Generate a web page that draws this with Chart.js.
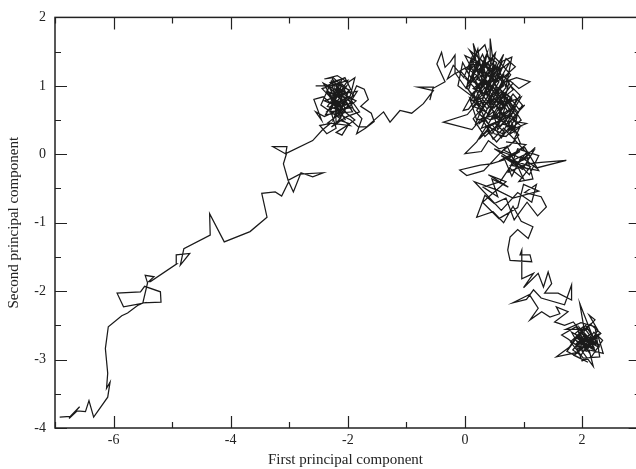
<!DOCTYPE html>
<html>
<head>
<meta charset="utf-8">
<script src="https://cdn.jsdelivr.net/npm/chart.js@4.4.1/dist/chart.umd.min.js"></script>
<style>
  html, body { margin: 0; padding: 0; background: #fff; }
  #wrap { width: 636px; height: 469px; }
</style>
</head>
<body>
<div id="wrap"><canvas id="pcaChart" width="636" height="469"></canvas></div>
<script>
// axis settings
const xRange = [-7, 2.92];
const yRange = [-4, 2];
const xTitle = 'First principal component';
const yTitle = 'Second principal component';

// trajectory
const tailPts = [
  [-6.92,-3.84],[-6.74,-3.83],[-6.58,-3.69],[-6.76,-3.86],[-6.62,-3.75],[-6.48,-3.76],
  [-6.42,-3.60],[-6.34,-3.84],[-6.10,-3.55],[-6.06,-3.33],[-6.12,-3.42],[-6.10,-3.20],
  [-6.14,-2.84],[-6.09,-2.52],[-5.86,-2.36],[-5.76,-2.32],[-5.59,-2.21],[-5.51,-2.18],
  [-5.83,-2.23],[-5.94,-2.03],[-5.54,-2.01],[-5.47,-1.93],[-5.20,-2.01],[-5.19,-2.16],
  [-5.50,-2.17],[-5.42,-1.88],[-5.46,-1.77],[-5.31,-1.79],[-5.40,-1.86],[-5.37,-1.86],
  [-4.92,-1.60],[-4.93,-1.47],[-4.70,-1.45],[-4.86,-1.62],[-4.80,-1.38],[-4.35,-1.18],
  [-4.36,-0.87],[-4.11,-1.28],[-3.67,-1.13],[-3.38,-0.92],[-3.47,-0.57],[-3.24,-0.55],
  [-3.13,-0.61],[-3.01,-0.40],[-2.93,-0.55],[-2.80,-0.27],[-2.60,-0.33],[-2.42,-0.27],
  [-2.82,-0.29],[-3.02,-0.38],[-3.10,-0.14],[-3.05,0.00],[-3.28,0.11],[-3.04,0.11],
  [-3.06,0.01],[-2.60,0.20],[-2.44,0.35]
];

const clusterA = [
  [-2.30,0.45],[-2.48,0.42],[-2.36,0.30],[-2.20,0.38],[-2.28,0.60],[-2.12,0.55],
  [-2.25,0.80],[-2.05,0.72],[-2.18,0.95],[-2.00,0.88],[-2.30,1.05],[-2.10,1.10],
  [-2.22,0.85],[-2.35,0.70],[-2.15,0.65],[-2.40,0.55],[-2.55,0.62],[-2.45,0.50],
  [-2.58,0.80],[-2.42,0.84],[-2.30,0.75],[-2.12,0.78],[-2.20,1.00],[-2.55,1.00],
  [-2.36,1.00],[-2.05,1.12],[-1.95,0.95],[-2.10,0.85],[-1.92,0.75],[-2.15,0.70],
  [-2.44,0.96],[-2.00,1.08],[-2.38,0.58],[-1.92,0.62],[-2.26,1.10],[-2.46,0.72],
  [-1.96,0.42],[-2.34,0.46],[-1.86,0.78],[-2.42,1.04],[-2.04,0.50],[-2.30,0.86],
  [-1.84,0.92],[-2.20,0.44],
  [-2.22,0.96],[-2.04,0.66],[-2.30,0.62],[-2.10,1.02],[-2.26,0.74],[-2.00,0.82],
  [-2.36,0.92],[-2.14,0.58],[-1.98,0.94],[-2.28,1.06],[-2.18,0.70],[-2.40,0.78],
  [-2.08,0.88],[-2.24,0.52],[-2.06,0.76],[-2.32,0.98],[-2.12,0.66],[-1.94,0.68],
  [-2.20,0.86],[-2.02,1.00],[-2.16,0.80],[-2.34,0.64],[-2.10,0.74],[-1.90,0.86],
  [-2.14,1.06],[-2.26,0.84],
  [-2.02,0.60],[-1.88,0.50],[-2.05,0.40],[-2.20,0.32],[-2.10,0.28],[-1.98,0.45],
  [-2.15,0.50],[-2.28,0.40],[-2.02,0.55],[-1.80,0.62],[-1.95,0.80],[-1.85,1.00],
  [-1.72,0.95],[-1.65,0.80],[-1.78,0.70],[-1.60,0.60],[-1.55,0.48],[-1.70,0.38],
  [-1.85,0.30],[-1.76,0.52],[-1.90,0.65],[-2.08,0.98],[-2.25,1.12],[-2.40,1.10],
  [-2.18,1.15],[-2.00,1.05],[-1.88,1.12],[-1.96,0.85],[-2.20,0.72],[-2.32,0.88],
  [-2.12,0.92],[-2.00,0.70],[-2.18,0.60],[-1.95,0.50],[-1.82,0.40],[-1.68,0.40]
];

const bridgePts = [
  [-1.39,0.62],[-1.28,0.47],[-1.11,0.64],[-0.91,0.60],[-0.71,0.74],[-0.54,0.93],
  [-0.80,0.98],[-0.54,0.98],[-0.60,0.79],[-0.55,0.96],[-0.34,1.06],[-0.48,1.32],
  [-0.40,1.49],[-0.34,1.27],[-0.25,1.35],[-0.17,1.45],[-0.17,1.18],[-0.30,1.10]
];

const clusterB = [
  [-0.20,1.30],[-0.02,1.12],[0.12,1.42],[0.04,1.02],[0.30,1.22],[0.14,1.62],
  [0.22,1.18],[0.38,1.48],[0.26,1.02],[0.50,1.28],[0.32,0.88],[0.12,1.16],
  [0.44,1.38],[0.43,1.69],[0.50,1.22],[0.66,1.46],[0.48,1.02],[0.74,1.18],
  [0.52,0.86],[0.34,1.10],[0.18,0.82],[0.02,0.98],[0.24,1.30],[0.08,1.52],
  [0.30,1.36],[0.36,1.12],[0.14,0.96],[0.40,0.86],[0.56,1.20],[0.64,1.36],
  [0.80,1.42],[0.70,0.98],[0.56,1.28],[0.40,0.96],[0.24,1.34],[0.10,1.12],
  [-0.04,1.34],[-0.12,1.00],[0.10,0.86],[0.34,1.08],[0.46,0.78],[0.62,1.04],
  [0.88,1.12],[1.11,1.06],[0.92,0.96],[0.76,1.08],[0.66,0.74],[0.48,0.98],
  [0.30,0.72],[0.18,0.96],[0.42,1.20],[0.26,1.40],[0.10,1.24],[0.22,1.54],
  [0.28,1.20],[0.36,1.44],[0.54,1.34],[0.42,1.04],[0.66,1.16],[0.54,0.80],
  [0.38,0.66],[0.22,0.84],[0.06,0.66],[-0.03,0.64],[0.14,0.90],[0.32,0.56],
  [0.46,0.80],[0.64,0.56],[0.74,0.86],[0.92,0.66],[1.02,0.72],[0.82,0.54],
  [0.72,0.40],[0.56,0.70],[0.40,0.44],[0.20,0.64],[0.36,0.90],[0.52,0.54],
  [0.70,0.76],[0.84,0.48],[1.05,0.45],[0.80,0.36],[0.62,0.50],[0.46,0.30],
  [0.28,0.52],[0.12,0.36],[-0.37,0.47],[0.04,0.58],[0.22,0.76],[0.40,0.58],
  [0.58,0.84],[0.72,1.00],[0.56,1.12],[0.38,0.90],[0.22,1.14],[0.06,1.24],
  [0.16,1.44],[0.34,1.60],[0.42,1.36],[0.58,1.22],[0.76,1.34],[0.60,1.10],
  [0.44,1.26],[0.28,0.96],[0.12,1.10],[0.00,1.26],[-0.16,1.18],[0.02,0.96],
  [0.22,1.16],[0.40,1.32],[0.52,1.00],[0.70,0.88],[0.50,0.68],[0.34,0.98],
  [0.18,0.78],[0.44,0.74],[0.62,0.92],[0.80,0.66],[0.60,0.52],[0.44,0.68],
  [0.28,0.38],[0.50,0.46],[0.68,0.32],[0.54,0.18],[0.38,0.34],[0.24,0.22],
  [0.46,0.44],[0.62,0.24],[0.78,0.42],[0.92,0.28],[0.76,0.12],[0.58,0.08],
  [0.40,0.20],[0.28,0.04],[0.00,0.01],[0.20,0.18],[0.36,0.40],[0.56,0.48],
  [0.72,0.64],[0.50,0.90],[0.32,1.14],[0.48,1.34],[0.66,1.00],[0.46,0.86],
  [0.28,0.66],[0.14,0.52],[0.34,0.26],[0.52,0.40],[0.66,0.56],[0.84,0.32],
  [0.90,0.62],[0.70,0.84],[0.96,0.50],[0.74,0.34],[0.98,0.72],[0.82,0.88],
  [0.60,0.62],[0.92,0.44],[0.76,0.58],[0.50,0.52],[0.86,0.70],[0.64,0.30],
  [0.40,0.40],[0.72,0.54],[0.94,0.86],[0.78,1.00],[0.56,0.76],[0.88,0.80],
  [0.68,0.46],[0.46,0.56],[0.20,0.50],[0.08,0.82],[0.26,0.68],[0.06,0.94],
  [0.16,1.18],[0.00,1.44],[0.20,1.36],[0.08,1.06],[-0.08,1.22],[0.14,1.32],
  [0.34,1.04],[0.58,1.18],[0.82,1.04],[0.66,0.86],[0.84,0.62],[0.58,0.40],
  [0.60,0.70],[0.42,0.92],[0.26,1.24],[0.46,1.10],[0.30,1.46],[0.18,1.26],
  [0.38,1.18],[0.20,0.94],[0.02,1.10],[0.24,1.02],[0.10,0.78],[0.30,0.82],
  [0.48,1.18],[0.36,1.30],[0.52,1.48],[0.44,1.14],[0.62,1.26],[0.46,0.94],
  [0.64,0.82],[0.82,0.94],[0.68,1.14],[0.86,1.28],[0.70,1.40],[0.54,1.06],
  [0.34,1.20],[0.16,1.06],[0.30,0.88],[0.14,0.70],[0.36,0.62],[0.26,0.46],
  [0.48,0.62],[0.56,0.36],[0.72,0.52],[0.58,0.66],[0.76,0.76],[0.96,0.84],
  [0.80,0.60],[0.64,0.44],[0.86,0.40],[0.70,0.26],[0.50,0.30],[0.36,0.50],
  [0.18,0.44],[0.30,0.70],[0.50,0.82],[0.68,0.68],[0.54,0.94],[0.40,0.76],
  [0.24,0.92],[0.38,1.06],[0.56,0.92],[0.44,1.22],[0.28,1.12],[0.12,1.36],
  [0.30,1.30],[0.20,1.10],[0.40,1.00],[0.30,0.80],[0.46,0.66],[0.64,0.78],
  [0.52,0.58],[0.70,0.44],[0.88,0.56],[0.72,0.70],[0.60,0.96],[0.78,1.16],
  [0.62,1.32],[0.48,1.44],[0.40,1.24],[0.58,1.06],[0.42,0.82],[0.24,0.58],
  [0.44,0.50],[0.62,0.64],[0.80,0.82],[0.66,0.90],[0.50,0.74],[0.32,0.48],
  [0.48,0.22],[0.66,0.38],[0.84,0.22],[0.94,0.40],[0.78,0.30],[0.80,0.46]
];

const clusterC = [
  [0.95,0.15],[0.70,0.18],[1.04,0.14],[0.80,-0.02],[0.50,0.08],[0.90,-0.14],
  [1.20,0.10],[1.00,-0.08],[0.66,0.06],[0.86,0.20],[1.12,-0.04],[0.78,-0.16],
  [1.26,-0.24],[1.02,0.10],[0.58,-0.10],[0.94,0.04],[0.74,-0.06],[1.08,-0.22],
  [0.62,-0.02],[0.98,-0.22],[1.18,0.06],[0.84,-0.08],[1.10,-0.30],
  [1.26,-0.02],[0.90,0.08],[0.74,-0.26],[1.06,-0.14],[1.30,-0.12],[1.73,-0.09],
  [1.22,-0.20],[0.96,-0.04],[0.80,-0.32],[0.68,-0.08],[0.44,-0.14],[0.26,-0.16],
  [-0.09,-0.23],[0.03,-0.31],[0.32,-0.24],[0.56,-0.02],[0.72,0.12],[0.88,-0.18],
  [1.04,0.02],[1.16,-0.36],[0.92,-0.40],[1.12,-0.18],[0.86,-0.10],[1.00,-0.36],
  [0.76,-0.20],[0.60,-0.40],[0.31,-0.48],[0.56,-0.62],[0.46,-0.36],[0.74,-0.48],
  [0.40,-0.30],[0.70,-0.40],[0.30,-0.70],[0.58,-0.94],[0.90,-0.78],[1.00,-0.44],
  [1.26,-0.54],[0.82,-0.64],[0.54,-0.52],[0.16,-0.40],
  [0.62,-0.82],[0.90,-0.56],[1.14,-0.70],[1.22,-0.44],[1.02,-0.56],[1.30,-0.62],
  [1.39,-0.77],[1.24,-0.90],[1.06,-0.70],[0.84,-0.96],[0.70,-0.64],[0.50,-0.72],
  [0.34,-0.60],[0.20,-0.92],[0.48,-0.84],[0.66,-1.00],[0.82,-0.76],[0.96,-0.98],
  [1.16,-1.06],[1.08,-1.23],[0.90,-1.10],[0.77,-1.21]
];

const descentPts = [
  [0.73,-1.40],[0.77,-1.55],[1.14,-1.57],[1.11,-1.47],[0.94,-1.47],[0.97,-1.40],
  [0.97,-1.82],[1.17,-1.74],[1.00,-1.95],[1.25,-1.74],[1.34,-1.94],[1.42,-1.72],
  [1.48,-1.89],[1.36,-2.03],[1.59,-2.03],[1.82,-2.13],[1.82,-1.91],[1.70,-2.20],
  [1.30,-2.10],[1.17,-1.98],[1.05,-2.12],[0.82,-2.17],[1.10,-2.05],[1.25,-2.25],
  [1.11,-2.42],[1.31,-2.30],[1.45,-2.38],[1.62,-2.33],[1.56,-2.23],[1.76,-2.30],
  [1.53,-2.45],[1.70,-2.50]
];

const clusterD = [
  [1.85,-2.45],[2.08,-2.70],[1.88,-2.78],[2.16,-2.62],[1.96,-2.18],[2.04,-2.58],
  [2.22,-2.42],[2.12,-2.35],[2.27,-2.57],[2.06,-2.86],[1.92,-2.64],[1.78,-2.82],
  [1.56,-2.96],[1.90,-2.90],[2.10,-2.74],[2.28,-2.68],[2.36,-2.91],[2.12,-2.86],
  [2.19,-3.10],[2.00,-2.88],[1.94,-2.60],[2.14,-2.68],[2.30,-2.82],[2.10,-2.56],
  [1.72,-2.56],[1.98,-2.46],[2.22,-2.52],[2.30,-2.96],[2.02,-2.98],[1.80,-2.74],
  [2.14,-2.48],[2.32,-2.62],[1.86,-2.94],[2.10,-3.04],[1.74,-2.88],[2.06,-2.50],
  [2.28,-2.78],[1.90,-2.68],[2.16,-2.84],[1.96,-2.54],[2.24,-2.80],[1.82,-2.60],
  [1.98,-2.84],[1.76,-2.70],[1.65,-2.64],[1.90,-2.52],[2.06,-2.78],[2.20,-2.60],
  [2.35,-2.72],[2.16,-2.96],[2.00,-3.02],[1.90,-2.80],[2.12,-2.70],[2.24,-2.90],
  [2.02,-2.66],[1.92,-2.76],[2.16,-2.78],[2.04,-2.62],[1.86,-2.70],[2.08,-2.82],
  [2.22,-2.74],[2.00,-2.70],[1.84,-2.86],[1.98,-2.94],[2.10,-2.78],[2.26,-2.64],
  [2.06,-2.74],[1.96,-2.68],[2.14,-2.92],[2.04,-2.80],[1.88,-2.62],[2.02,-2.52],
  [2.18,-2.70],[2.08,-2.88],[1.94,-2.84],[2.10,-2.66],[2.20,-2.82],[2.00,-2.76]
];

const path = [...tailPts, ...clusterA, ...bridgePts, ...clusterB, ...clusterC, ...descentPts, ...clusterD]
  .map(([x, y]) => ({ x, y }));

// box + inward ticks on all four sides (like the original plot)
const framePlugin = {
  id: 'frame',
  afterDraw(chart) {
    const { ctx, chartArea: a, scales: { x, y } } = chart;
    const right = x.getPixelForValue(3);
    ctx.save();
    ctx.strokeStyle = '#222';
    ctx.lineWidth = 1.5;
    ctx.strokeRect(a.left, a.top, right - a.left, a.bottom - a.top);

    ctx.lineWidth = 1.2;
    ctx.beginPath();
    x.ticks.forEach(t => {
      const px = Math.round(x.getPixelForValue(t.value)) + 0.5;
      const len = t.value % 2 === 0 ? 12 : 6;
      ctx.moveTo(px, a.bottom); ctx.lineTo(px, a.bottom - len);
      ctx.moveTo(px, a.top); ctx.lineTo(px, a.top + len);
    });
    y.ticks.forEach(t => {
      const py = Math.round(y.getPixelForValue(t.value)) + 0.5;
      const len = Number.isInteger(t.value) ? 12 : 6;
      ctx.moveTo(a.left, py); ctx.lineTo(a.left + len, py);
      ctx.moveTo(right, py); ctx.lineTo(right - len, py);
    });
    ctx.stroke();
    ctx.restore();
  }
};

const serif = 'Liberation Serif, Times New Roman, serif';

new Chart(document.getElementById('pcaChart'), {
  type: 'scatter',
  data: {
    datasets: [{
      data: path,
      showLine: true,
      borderColor: '#1a1a1a',
      borderWidth: 1.25,
      pointRadius: 0,
      tension: 0
    }]
  },
  options: {
    responsive: false,
    animation: false,
    devicePixelRatio: 1,
    layout: { padding: { top: 17, right: 0, bottom: 0, left: 0 } },
    plugins: { legend: { display: false }, tooltip: { enabled: false } },
    scales: {
      x: {
        type: 'linear',
        min: xRange[0],
        max: xRange[1],
        afterBuildTicks: s => { s.ticks = s.ticks.filter(t => Number.isInteger(t.value)); },
        afterFit: s => { s.height = 41; },
        ticks: {
          stepSize: 1,
          autoSkip: false,
          maxRotation: 0,
          padding: 4,
          color: '#222',
          font: { family: serif, size: 14 },
          callback: v => (v % 2 === 0 ? String(v) : '')
        },
        grid: { display: false, drawTicks: false },
        border: { display: false },
        title: {
          display: true,
          text: xTitle,
          color: '#222',
          font: { family: serif, size: 15 },
          padding: { top: 0, bottom: 0 }
        }
      },
      y: {
        type: 'linear',
        min: yRange[0],
        max: yRange[1],
        afterBuildTicks: s => { s.ticks = s.ticks.filter(t => Number.isInteger(t.value * 2)); },
        afterFit: s => { s.width = 55; },
        ticks: {
          stepSize: 0.5,
          autoSkip: false,
          padding: 9,
          color: '#222',
          font: { family: serif, size: 14 },
          callback: v => (Number.isInteger(v) ? String(v) : '')
        },
        grid: { display: false, drawTicks: false },
        border: { display: false },
        title: {
          display: true,
          text: yTitle,
          color: '#222',
          font: { family: serif, size: 15 },
          padding: { top: 5, bottom: 0 }
        }
      }
    }
  },
  plugins: [framePlugin]
});
</script>
</body>
</html>
